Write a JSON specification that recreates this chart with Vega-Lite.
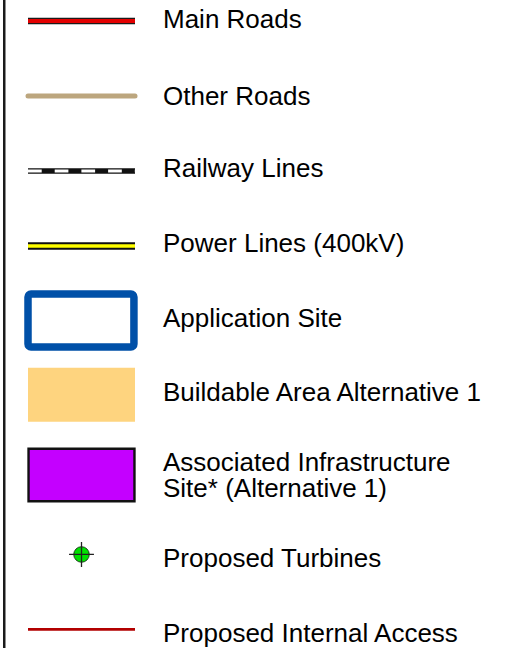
{
  "$schema": "https://vega.github.io/schema/vega-lite/v6.json",
  "width": 524,
  "height": 648,
  "autosize": {"type": "none"},
  "padding": 0,
  "background": "white",
  "config": {"view": {"stroke": null}},
  "data": {
    "values": [
      {"name": "main", "label": "Main Roads", "slot": 0, "tslot": 0.097},
      {"name": "other", "label": "Other Roads", "slot": 1, "tslot": 1.12},
      {"name": "rail", "label": "Railway Lines", "slot": 2, "tslot": 2.084},
      {"name": "power", "label": "Power Lines (400kV)", "slot": 3, "tslot": 3.076},
      {"name": "site", "label": "Application Site", "slot": 3.993, "tslot": 4.084},
      {"name": "build", "label": "Buildable Area Alternative 1", "slot": 4.983, "tslot": 5.063},
      {"name": "assoc", "label": "Associated Infrastructure\nSite* (Alternative 1)", "slot": 6.053, "tslot": 6.0},
      {"name": "turb", "label": "Proposed Turbines", "slot": 7.113, "tslot": 7.284},
      {"name": "access", "label": "Proposed Internal Access", "slot": 8.113, "tslot": 8.284}
    ]
  },
  "encoding": {
    "y": {"field": "slot", "type": "quantitative", "scale": {"domain": [-0.28, 8.36], "reverse": true, "nice": false, "zero": false}, "axis": null}
  },
  "layer": [
    {
      "transform": [{"filter": "datum.name === 'main'"}],
      "mark": {"type": "rule", "stroke": "#1a1a1a", "strokeWidth": 2.5},
      "encoding": {
        "x": {"datum": -0.222, "type": "quantitative", "scale": {"domain": [-0.2617, 4.6355], "nice": false, "zero": false}, "axis": null},
        "y": {"datum": -0.28},
        "y2": {"datum": 8.36}
      }
    },
    {
      "transform": [{"filter": "datum.name === 'main'"}],
      "mark": {"type": "rule", "stroke": "#1a1a1a", "strokeWidth": 6.3, "strokeCap": "butt"},
      "encoding": {"x": {"datum": 0, "type": "quantitative"}, "x2": {"datum": 1}}
    },
    {
      "transform": [{"filter": "datum.name === 'main'"}],
      "mark": {"type": "rule", "stroke": "#e30000", "strokeWidth": 3.8, "strokeCap": "butt"},
      "encoding": {"x": {"datum": 0, "type": "quantitative"}, "x2": {"datum": 1}}
    },
    {
      "transform": [{"filter": "datum.name === 'other'"}],
      "mark": {"type": "rule", "stroke": "#bca67e", "strokeWidth": 5, "strokeCap": "round"},
      "encoding": {"x": {"datum": 0, "type": "quantitative"}, "x2": {"datum": 1}}
    },
    {
      "transform": [{"filter": "datum.name === 'rail'"}],
      "mark": {"type": "rule", "stroke": "#111111", "strokeWidth": 5.7, "strokeCap": "butt"},
      "encoding": {"x": {"datum": 0, "type": "quantitative"}, "x2": {"datum": 1}}
    },
    {
      "transform": [{"filter": "datum.name === 'rail'"}],
      "mark": {"type": "rule", "stroke": "#ffffff", "strokeWidth": 3, "strokeCap": "butt", "strokeDash": [13.7, 13]},
      "encoding": {"x": {"datum": 0, "type": "quantitative"}, "x2": {"datum": 1}}
    },
    {
      "transform": [{"filter": "datum.name === 'power'"}],
      "mark": {"type": "rule", "stroke": "#111111", "strokeWidth": 7.5, "strokeCap": "butt"},
      "encoding": {"x": {"datum": 0, "type": "quantitative"}, "x2": {"datum": 1}}
    },
    {
      "transform": [{"filter": "datum.name === 'power'"}],
      "mark": {"type": "rule", "stroke": "#ffff00", "strokeWidth": 3.4, "strokeCap": "butt"},
      "encoding": {"x": {"datum": 0, "type": "quantitative"}, "x2": {"datum": 1}}
    },
    {
      "transform": [{"filter": "datum.name === 'site'"}],
      "mark": {"type": "rect", "fill": "#ffffff", "stroke": "#0050a8", "strokeWidth": 7.5, "cornerRadius": 3, "height": 53},
      "encoding": {"x": {"datum": 0, "type": "quantitative"}, "x2": {"datum": 0.99}}
    },
    {
      "transform": [{"filter": "datum.name === 'build'"}],
      "mark": {"type": "rect", "fill": "#fed47f", "height": 54},
      "encoding": {"x": {"datum": 0, "type": "quantitative"}, "x2": {"datum": 1}}
    },
    {
      "transform": [{"filter": "datum.name === 'assoc'"}],
      "mark": {"type": "rect", "fill": "#c400ff", "stroke": "#111111", "strokeWidth": 2.4, "height": 52.5},
      "encoding": {"x": {"datum": 0.005, "type": "quantitative"}, "x2": {"datum": 0.995}}
    },
    {
      "transform": [{"filter": "datum.name === 'turb'"}],
      "mark": {"type": "point", "shape": "circle", "filled": true, "fill": "#00e000", "stroke": "#1f3f1f", "strokeWidth": 1, "size": 240, "opacity": 1},
      "encoding": {"x": {"datum": 0.5, "type": "quantitative"}}
    },
    {
      "transform": [{"filter": "datum.name === 'turb'"}],
      "mark": {"type": "point", "shape": "M-1,0H1M0,-1V1", "filled": false, "stroke": "#222222", "strokeWidth": 1.3, "size": 620, "opacity": 1},
      "encoding": {"x": {"datum": 0.5, "type": "quantitative"}}
    },
    {
      "transform": [{"filter": "datum.name === 'access'"}],
      "mark": {"type": "rule", "stroke": "#b20000", "strokeWidth": 2.7, "strokeCap": "butt"},
      "encoding": {"x": {"datum": 0, "type": "quantitative"}, "x2": {"datum": 1}}
    },
    {
      "mark": {"type": "text", "align": "left", "baseline": "alphabetic", "font": "Liberation Sans", "fontSize": 26, "lineHeight": 26, "lineBreak": "\n", "fill": "#000000"},
      "encoding": {
        "x": {"datum": 1.2617, "type": "quantitative"},
        "y": {"field": "tslot", "type": "quantitative"},
        "text": {"field": "label", "type": "nominal"}
      }
    }
  ]
}
